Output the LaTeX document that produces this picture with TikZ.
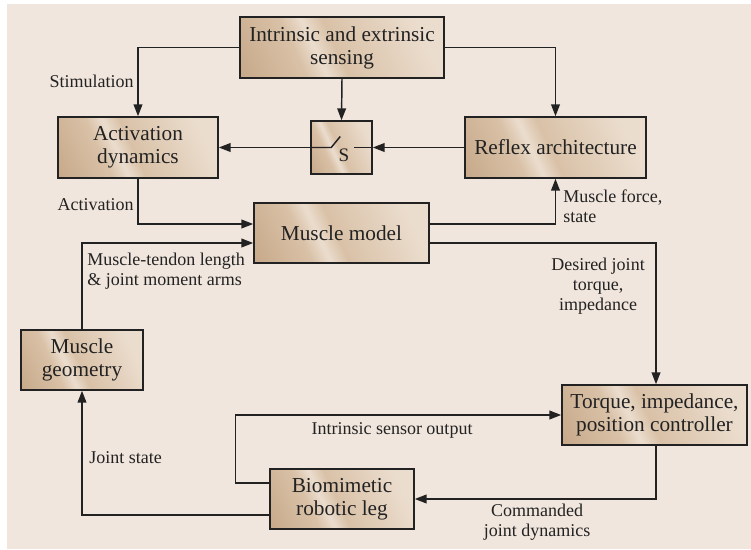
\documentclass[tikz,border=0pt]{standalone}
\usepackage{fontspec}
\setmainfont{Liberation Serif}
\usetikzlibrary{arrows.meta,calc}
\definecolor{paper}{HTML}{F1E6DD}
\definecolor{boxdark}{HTML}{C8AA8B}
\definecolor{boxmid}{HTML}{D9C1A7}
\definecolor{boxlight}{HTML}{EBDDCE}
\definecolor{ink}{HTML}{222222}
\pgfdeclarehorizontalshading{boxgrad}{100bp}{color(0bp)=(boxdark); color(18bp)=(boxdark); color(36bp)=(boxmid); color(42bp)=(boxlight); color(48bp)=(boxmid); color(75bp)=(boxlight); color(100bp)=(boxlight)}
\newcommand{\px}{0.55pt}
\tikzset{
  block/.style={draw=ink, line width=0.85pt, shading=boxgrad, shading angle=25, inner sep=0pt, align=center, text=ink, font=\fontsize{11.7}{12.7}\selectfont},
  lbl/.style={inner sep=0pt, text=ink, font=\fontsize{9.9}{11}\selectfont},
  flow/.style={draw=ink, line width=0.8pt, -{Triangle[length=6.5pt,width=4.8pt]}},
  wire/.style={draw=ink, line width=0.8pt}
}
\begin{document}
\begin{tikzpicture}[x=\px, y=-\px]
  \useasboundingbox (0,0) rectangle (751,550);
  \fill[paper] (7,4) rectangle (751,549);

  % Blocks
  \node[block, minimum width=204*\px, minimum height=61*\px] (sense) at (342,47.5) {Intrinsic and extrinsic\\sensing};
  \node[block, minimum width=160*\px, minimum height=61*\px] (act) at (138,147.5) {Activation\\dynamics};
  \node[block, minimum width=61*\px, minimum height=53*\px] (sw) at (341.5,147.5) {};
  \node[block, minimum width=181*\px, minimum height=61*\px] (reflex) at (555.5,147.5) {Reflex architecture};
  \node[block, minimum width=175*\px, minimum height=60*\px] (muscle) at (341.5,233) {Muscle model};
  \node[block, minimum width=122*\px, minimum height=60*\px] (geom) at (82,360) {Muscle\\geometry};
  \node[block, minimum width=144*\px, minimum height=60*\px] (leg) at (342,499) {Biomimetic\\robotic leg};
  \node[block, minimum width=185*\px, minimum height=60*\px] (ctrl) at (654.5,415) {Torque, impedance,\\position controller};

  % Switch
  \node[lbl, font=\fontsize{10.5}{12}\selectfont] (swS) at (344,155) {S};
  \draw[wire] (sw.west) -- ++(21,0) -- ++(9,-11);
  \draw[wire] (sw.east) -- ++(-19,0);

  % Connectors
  \draw[flow] (sense.west) -| (act.north);
  \draw[flow] (sense.south) -- (sw.north);
  \draw[flow] (sense.east) -| (reflex.north);
  \draw[flow] (reflex.west) -- (sw.east);
  \draw[flow] (sw.west) -- (act.east);
  \draw[flow] (act.south) |- ([yshift=9*\px]muscle.west);
  \draw[flow] (geom.north) |- ([yshift=-10*\px]muscle.west);
  \draw[flow] ([yshift=9*\px]muscle.east) -| (reflex.south);
  \draw[flow] ([yshift=-10*\px]muscle.east) -| ([xshift=1.5*\px]ctrl.north);
  \draw[flow] ([xshift=1.5*\px]ctrl.south) |- (leg.east);
  \draw[flow] ([yshift=16*\px]leg.west) -- ++(-34,0) |- (ctrl.west);
  \draw[flow] ([yshift=-16*\px]leg.west) -| (geom.south);

  % Labels
  \node[lbl, anchor=east] (stim) at (134,81) {Stimulation};
  \node[lbl, anchor=east] (actlbl) at (134,205) {Activation};
  \node[lbl, anchor=west, align=left] (mtl) at (87,271) {Muscle-tendon length\\\& joint moment arms};
  \node[lbl, anchor=west, align=left] (mforce) at (563,206) {Muscle force,\\state};
  \node[lbl, align=center] (desired) at (598,286) {Desired joint\\torque,\\impedance};
  \node[lbl] (intr) at (392,430) {Intrinsic sensor output};
  \node[lbl, anchor=west] (jstate) at (89,458) {Joint state};
  \node[lbl, align=center] (cmd) at (537,522) {Commanded\\joint dynamics};
\end{tikzpicture}
\end{document}
